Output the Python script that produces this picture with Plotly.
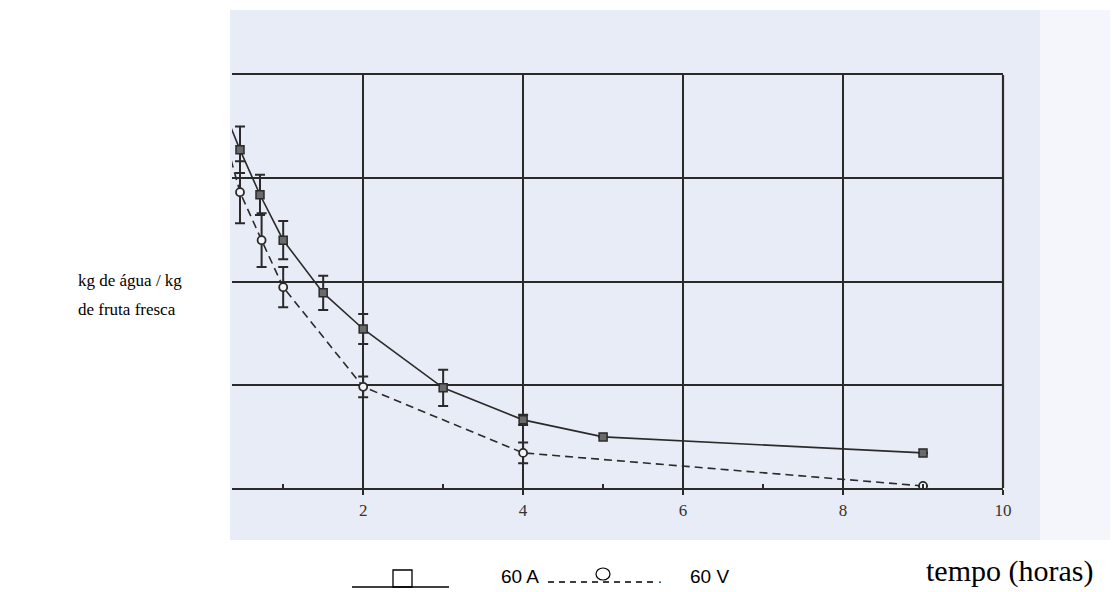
import plotly.graph_objects as go

# --- data ---
tempo_A = [0, 0.46, 0.71, 1.0, 1.5, 2, 3, 4, 5, 9]
agua_A = [0.83, 0.655, 0.568, 0.480, 0.378, 0.308, 0.194, 0.132, 0.099, 0.068]
erro_A = [0.0, 0.045, 0.039, 0.037, 0.033, 0.029, 0.035, 0.010, 0.0, 0.0]

tempo_V = [0, 0.46, 0.73, 1.0, 2, 4, 9]
agua_V = [0.83, 0.573, 0.480, 0.389, 0.196, 0.068, 0.004]
erro_V = [0.0, 0.060, 0.052, 0.039, 0.020, 0.020, 0.0]

x_ticks = [2, 4, 6, 8, 10]
x_labels = ["2", "4", "6", "8", "10"]
y_grid = [0, 0.2, 0.4, 0.6, 0.8]

INK = "#2a2a2a"

fig = go.Figure()
fig.add_trace(go.Scatter(
    x=tempo_A, y=agua_A, mode="lines+markers", name="60 A",
    line=dict(color=INK, width=1.6),
    marker=dict(symbol="square", size=8, color="#6a6a6a", line=dict(color=INK, width=1.5)),
    error_y=dict(type="data", array=erro_A, visible=True, color=INK, thickness=2, width=5),
    cliponaxis=True, showlegend=False,
))
fig.add_trace(go.Scatter(
    x=tempo_V, y=agua_V, mode="lines+markers", name="60 V",
    line=dict(color=INK, width=1.6, dash="8px,5px"),
    marker=dict(symbol="circle", size=8, color="#f4f4f4", line=dict(color=INK, width=1.8)),
    error_y=dict(type="data", array=erro_V, visible=True, color=INK, thickness=2, width=5),
    cliponaxis=True, showlegend=False,
))

# page coordinates of the plot area (page has an 8px body margin)
OFF = 8
L, R, T, B = 232, 1003, 75, 488
W, H = R - L, B - T
def px(x):
    return (x - L) / W
def py(y):
    return (B - y) / H

shapes = [
    # scanned paper background
    dict(type="rect", xref="paper", yref="paper", x0=px(230), x1=px(1040), y0=py(540), y1=py(10),
         fillcolor="#e8ecf6", line=dict(width=0), layer="below"),
    dict(type="rect", xref="paper", yref="paper", x0=px(1040), x1=px(1118), y0=py(540), y1=py(10),
         fillcolor="#f4f6fc", line=dict(width=0), layer="below"),
    # right frame line
    dict(type="line", xref="paper", yref="paper", x0=1, x1=1, y0=0, y1=1,
         line=dict(color=INK, width=2.2)),
    # legend symbols
    dict(type="line", xref="paper", yref="paper", x0=px(352), x1=px(449), y0=py(587), y1=py(587),
         line=dict(color="black", width=1.5)),
    dict(type="rect", xref="paper", yref="paper", x0=px(393), x1=px(412), y0=py(587), y1=py(570),
         line=dict(color="black", width=1.3), fillcolor="rgba(0,0,0,0)"),
    dict(type="line", xref="paper", yref="paper", x0=px(548), x1=px(655), y0=py(582), y1=py(582),
         line=dict(color="black", width=1.3, dash="6px,5px")),
    dict(type="circle", xref="paper", yref="paper", x0=px(596), x1=px(610), y0=py(580), y1=py(568),
         line=dict(color="black", width=1.2), fillcolor="white"),
]

annotations = [
    dict(text="kg de água / kg", x=px(76), y=py(280), xref="paper", yref="paper",
         xanchor="left", yanchor="middle", showarrow=False,
         font=dict(family="Liberation Serif", size=17, color="black")),
    dict(text="de fruta fresca", x=px(76), y=py(309), xref="paper", yref="paper",
         xanchor="left", yanchor="middle", showarrow=False,
         font=dict(family="Liberation Serif", size=17, color="black")),
    dict(text="60 A", x=px(499), y=py(576), xref="paper", yref="paper",
         xanchor="left", yanchor="middle", showarrow=False,
         font=dict(family="Liberation Sans", size=19, color="black")),
    dict(text=".", x=px(656), y=py(578), xref="paper", yref="paper",
         xanchor="left", yanchor="middle", showarrow=False,
         font=dict(family="Liberation Sans", size=14, color="black")),
    dict(text="60 V", x=px(688), y=py(576), xref="paper", yref="paper",
         xanchor="left", yanchor="middle", showarrow=False,
         font=dict(family="Liberation Sans", size=19, color="black")),
    dict(text="tempo (horas)", x=px(924), y=py(571), xref="paper", yref="paper",
         xanchor="left", yanchor="middle", showarrow=False,
         font=dict(family="Liberation Serif", size=30, color="black")),
]

fig.update_layout(
    width=1118 - OFF, height=592 - OFF,
    margin=dict(l=L - OFF, r=1118 - R, t=T - OFF, b=592 - B),
    paper_bgcolor="white", plot_bgcolor="rgba(0,0,0,0)",
    showlegend=False,
    shapes=shapes, annotations=annotations,
    xaxis=dict(range=[0.36, 10], tickvals=x_ticks, ticktext=x_labels,
               showgrid=True, gridcolor=INK, gridwidth=2,
               showline=True, mirror=True, linecolor=INK, linewidth=2.2,
               ticks="outside", ticklen=5, tickwidth=2, tickcolor=INK,
               minor=dict(dtick=1, ticks="inside", ticklen=4, tickwidth=2, tickcolor=INK, showgrid=False),
               tickfont=dict(family="Liberation Serif", size=17, color="#333"),
               zeroline=False),
    yaxis=dict(range=[0, 0.8], tickvals=y_grid, showticklabels=False,
               showgrid=True, gridcolor=INK, gridwidth=2,
               showline=False, ticks="", zeroline=False),
)

fig.write_html("out.html")
